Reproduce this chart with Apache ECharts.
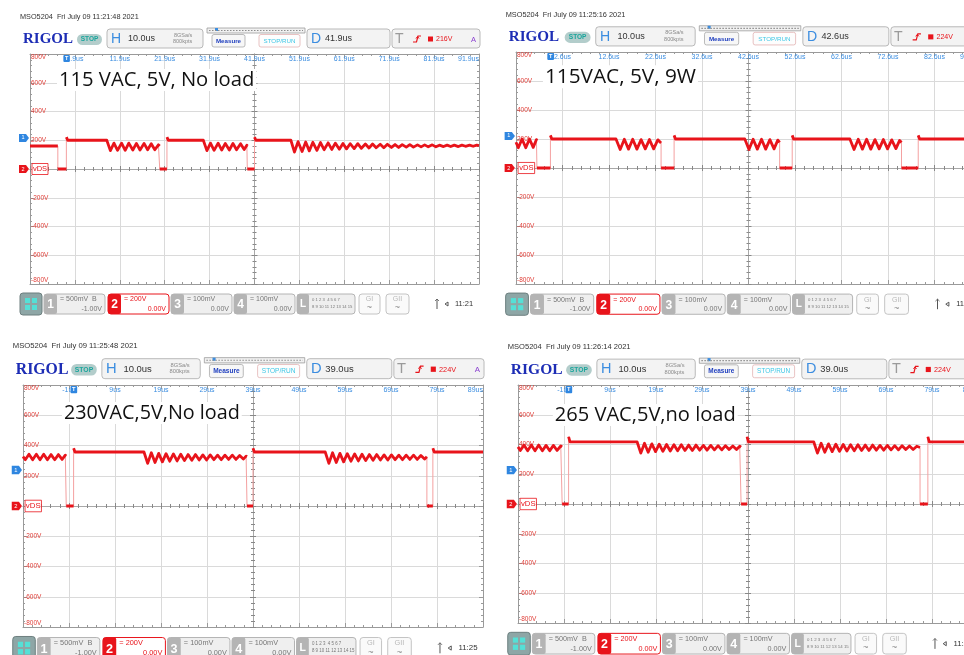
<!DOCTYPE html>
<html>
<head>
<meta charset="utf-8">
<script src="https://cdn.jsdelivr.net/npm/echarts@6/dist/echarts.min.js"></script>
<style>
html,body{margin:0;padding:0;background:#fff;}
#c{width:964px;height:655px;}
</style>
</head>
<body>
<div id="c"></div>
<script>
// Four RIGOL MSO5204 captures of the switch drain voltage (CH2, 200 V/div, 10 us/div)

const captions = ['115 VAC, 5V, No load', '115VAC, 5V, 9W', '230VAC,5V,No load', '265 VAC,5V,no load'];
const headers = [
  'MSO5204  Fri July 09 11:21:48 2021',
  'MSO5204  Fri July 09 11:25:16 2021',
  'MSO5204  Fri July 09 11:25:48 2021',
  'MSO5204  Fri July 09 11:26:14 2021'
];
// horizontal delay of screen centre after the trigger (us)
const delays = [41.9, 42.6, 39.0, 39.0];
const delayLabels = ['41.9us', '42.6us', '39.0us', '39.0us'];
const triggerLevels = ['216V', '224V', '224V', '224V'];
const clocks = ['11:21', '11:25', '11:25', '11:26'];
// CH1 offset marker position expressed on the CH2 scale (V)
const ch1Marker = [216, 221, 238, 228];

// Traces: [time in us after trigger, VDS in V]
const vds115NoLoad = [
  [-8.1,160],[-1.9,160],[-1.9,0],[0,0],[0,222],[0.3,200],[9.0,200],
  [9.8,128],[10.6,180],[11.4,130],[12.3,180],[13.1,130],[13.9,180],[14.8,132],[15.6,178],[16.4,132],[17.3,178],[18.1,134],[18.9,176],[19.7,134],[20.5,168],[20.8,160],
  [20.8,0],[22.4,0],[22.4,222],[22.7,200],[30.5,200],
  [31.3,128],[32.1,180],[32.9,130],[33.8,180],[34.6,132],[35.4,178],[36.3,132],[37.1,178],[37.9,134],[38.8,176],[39.6,136],[40.2,166],[40.3,160],
  [40.3,0],[41.9,0],[41.9,222],[42.2,200],[50.0,200],
  [50.8,118],[51.6,190],[52.5,122],[53.3,188],[54.1,126],[54.9,186],[55.8,130],[56.6,184],[57.4,134],[58.3,182],[59.1,136],[59.9,180],[60.8,138],[61.6,178],[62.4,140],[63.2,176],[64.1,142],[64.9,176],[65.7,144],[66.6,174],[67.4,146],[68.2,174],[69.0,148],[69.9,172],[70.7,148],[71.5,172],[72.4,150],[73.2,170],[74.0,150],[74.8,170],[75.7,152],[76.5,170],[77.3,152],[78.2,168],[79.0,154],[79.8,168],[80.6,154],[81.5,168],[82.3,154],[83.1,166],[84.0,156],[84.8,166],[85.6,156],[86.4,166],[87.3,156],[88.1,166],[88.9,158],[89.8,166],[90.6,158],[91.4,166],[91.9,162]
];
const vds115Load9W = [
  [-7.4,178],[-6.9,140],[-6.1,200],[-5.3,140],[-4.5,200],[-3.7,142],[-3.0,196],[-2.9,190],
  [-2.9,0],[0,0],[0,225],[0.3,200],[14.1,200],
  [15.0,128],[15.9,198],[16.8,130],[17.7,198],[18.6,130],[19.5,196],[20.4,132],[21.3,196],[22.2,132],[23.1,194],[23.8,172],
  [23.8,0],[26.6,0],[26.6,225],[26.9,200],[41.8,200],
  [42.7,128],[43.6,198],[44.5,130],[45.4,198],[46.3,130],[47.2,196],[48.1,132],[48.9,192],[49.3,176],
  [49.3,0],[52.0,0],[52.0,225],[52.3,200],[64.4,200],
  [65.3,128],[66.2,198],[67.1,130],[68.0,198],[68.9,130],[69.8,196],[70.7,132],[71.6,196],[72.5,132],[73.4,194],[74.3,134],[75.1,190],[75.5,176],
  [75.5,0],[79.1,0],[79.1,225],[79.4,200],[92.6,200]
];
const vds230NoLoad = [
  [-11,326],[-10.5,306],[-9.7,342],[-8.9,306],[-8.1,342],[-7.3,306],[-6.5,342],[-5.7,306],[-4.9,340],[-4.1,306],[-3.3,340],[-2.5,308],[-1.8,336],[-1.6,330],
  [-1.6,0],[0,0],[0,382],[0.3,357],[15.3,357],
  [16.1,282],[16.9,352],[17.7,288],[18.5,348],[19.3,292],[20.1,346],[20.9,296],[21.7,344],[22.5,298],[23.3,342],[24.1,300],[24.9,340],[25.7,302],[26.5,340],[27.3,304],[28.1,338],[28.9,304],[29.7,338],[30.5,306],[31.3,336],[32.1,306],[32.9,336],[33.7,308],[34.5,336],[35.3,308],[36.1,334],[36.9,310],[37.5,330],[37.7,326],
  [37.7,0],[39.0,0],[39.0,382],[39.3,357],[54.7,357],
  [55.5,282],[56.3,352],[57.1,288],[57.9,348],[58.7,292],[59.5,346],[60.3,296],[61.1,344],[61.9,298],[62.7,342],[63.5,300],[64.3,340],[65.1,302],[65.9,340],[66.7,304],[67.5,338],[68.3,304],[69.1,338],[69.9,306],[70.7,336],[71.5,306],[72.3,336],[73.1,308],[73.9,336],[74.7,308],[75.5,334],[76.3,310],[76.8,326],
  [76.8,0],[78.1,0],[78.1,382],[78.4,357],[89,357]
];
const vds265NoLoad = [
  [-11,384],[-10.5,360],[-9.7,396],[-8.9,358],[-8.1,396],[-7.3,358],[-6.5,396],[-5.7,358],[-4.9,394],[-4.1,358],[-3.3,394],[-2.5,360],[-1.7,390],[-1.4,384],
  [-1.4,0],[0,0],[0,452],[0.3,417],[14.9,417],
  [15.7,342],[16.5,408],[17.3,348],[18.1,404],[18.9,352],[19.7,402],[20.5,354],[21.3,400],[22.1,356],[22.9,398],[23.7,358],[24.5,398],[25.3,360],[26.1,396],[26.9,360],[27.7,396],[28.5,362],[29.3,394],[30.1,362],[30.9,394],[31.7,364],[32.5,392],[33.3,364],[34.1,392],[34.9,366],[35.7,390],[36.5,366],[37.2,388],[37.5,382],
  [37.5,0],[38.8,0],[38.8,452],[39.1,417],[53.3,417],
  [54.1,342],[54.9,408],[55.7,348],[56.5,404],[57.3,352],[58.1,402],[58.9,354],[59.7,400],[60.5,356],[61.3,398],[62.1,358],[62.9,398],[63.7,360],[64.5,396],[65.3,360],[66.1,396],[66.9,362],[67.7,394],[68.5,362],[69.3,394],[70.1,364],[70.9,392],[71.7,364],[72.5,392],[73.3,366],[74.1,390],[74.9,366],[75.7,388],[76.4,380],
  [76.4,0],[78.1,0],[78.1,452],[78.4,417],[89,417]
];
const traces = [vds115NoLoad, vds115Load9W, vds230NoLoad, vds265NoLoad];

// Screen layout of each capture's graticule
const grids = [
  {left: 30,  top: 54,  width: 449, height: 230},
  {left: 516, top: 52,  width: 465, height: 232},
  {left: 23,  top: 385, width: 460, height: 242},
  {left: 518, top: 385, width: 460, height: 238}
];
// caption placement (in the first capture's frame) and size
const captionPos = [[57, 80], [56, 78.5], [68, 80.5], [64, 83]];
const captionSize = [20.2, 20.6, 18.8, 19.4];

const RED = '#e8141b', BLUE = '#3b8de0', GRID = '#dadada', FRAME = '#9a9a9a';

// Thick trace: break the path at the fast vertical edges, which are drawn thin
function thickSegments(arr) {
  const out = [];
  for (let k = 0; k < arr.length; k++) {
    if (k > 0 && arr[k][0] === arr[k - 1][0] && Math.abs(arr[k][1] - arr[k - 1][1]) > 60) {
      out.push([arr[k][0], '-']);
    }
    out.push(arr[k]);
  }
  return out;
}

function fmtTime(v, i) {
  const d = delays[i] % 1 === 0 ? 0 : 1;
  return (Math.round(v * 10) / 10).toFixed(d) + 'us';
}

const chart = echarts.init(document.getElementById('c'), null, {renderer: 'canvas'});
const option = {
  animation: false,
  backgroundColor: '#ffffff',
  grid: [], xAxis: [], yAxis: [], series: []
};

grids.forEach((g, i) => {
  const tMin = delays[i] - 50, tMax = delays[i] + 50;
  option.grid.push({left: g.left, top: g.top, width: g.width, height: g.height,
    show: false, containLabel: false, outerBoundsMode: 'none'});
  const tick = {show: true, inside: true, length: 4, lineStyle: {color: FRAME, width: 1}};
  const minor = {show: true, splitNumber: 5, length: 2, lineStyle: {color: FRAME, width: 1}};
  const baseX = {type: 'value', gridIndex: i, min: tMin, max: tMax, interval: 10};
  // top frame with time labels
  option.xAxis.push(Object.assign({}, baseX, {
    position: 'top',
    axisLine: {show: true, onZero: false, lineStyle: {color: FRAME, width: 1}},
    axisTick: tick, minorTick: minor,
    splitLine: {show: true, lineStyle: {color: GRID, width: 1}},
    axisLabel: {show: true, inside: true, margin: 2, fontSize: 7, color: BLUE,
      fontFamily: 'Liberation Sans', showMinLabel: false, showMaxLabel: true,
      alignMaxLabel: 'right', formatter: v => fmtTime(v, i)}
  }));
  // bottom frame
  option.xAxis.push(Object.assign({}, baseX, {
    position: 'bottom',
    axisLine: {show: true, onZero: false, lineStyle: {color: FRAME, width: 1}},
    axisTick: tick, minorTick: minor, splitLine: {show: false}, axisLabel: {show: false}
  }));
  // 0 V centre line, ticks on both sides
  ['bottom', 'top'].forEach(pos => {
    option.xAxis.push(Object.assign({}, baseX, {
      position: pos,
      axisLine: {show: true, onZero: true, onZeroAxisIndex: i * 4, lineStyle: {color: '#a8a8a8', width: 1}},
      axisTick: {show: true, inside: true, length: 3, lineStyle: {color: '#888'}},
      minorTick: {show: true, splitNumber: 5, length: 2, lineStyle: {color: '#888'}},
      splitLine: {show: false}, axisLabel: {show: false}
    }));
  });

  const baseY = {type: 'value', gridIndex: i, min: -800, max: 800, interval: 200};
  option.yAxis.push(Object.assign({}, baseY, {
    position: 'left',
    axisLine: {show: true, onZero: false, lineStyle: {color: FRAME, width: 1}},
    axisTick: tick, minorTick: minor,
    splitLine: {show: true, lineStyle: {color: GRID, width: 1}},
    axisLabel: {show: true, inside: true, margin: 1, fontSize: 6.5, color: '#e0403a',
      fontFamily: 'Liberation Sans', showMinLabel: true, showMaxLabel: true,
      verticalAlignMaxLabel: 'top', verticalAlignMinLabel: 'bottom',
      formatter: v => (v === 0 ? '' : v + 'V')}
  }));
  option.yAxis.push(Object.assign({}, baseY, {
    position: 'right',
    axisLine: {show: true, onZero: false, lineStyle: {color: FRAME, width: 1}},
    axisTick: tick, minorTick: minor, splitLine: {show: false}, axisLabel: {show: false}
  }));
  // centre time line
  [true, false].forEach(ins => {
    option.yAxis.push(Object.assign({}, baseY, {
      position: 'left', offset: -g.width / 2,
      axisLine: {show: true, onZero: false, lineStyle: {color: '#a8a8a8', width: 1}},
      axisTick: {show: true, inside: ins, length: 3, lineStyle: {color: '#888'}},
      minorTick: {show: true, splitNumber: 5, length: 2, lineStyle: {color: '#888'}},
      splitLine: {show: false}, axisLabel: {show: false}
    }));
  });

  option.series.push({
    type: 'line', name: 'edges' + i, xAxisIndex: i * 4, yAxisIndex: i * 4,
    data: traces[i], symbol: 'none', silent: true, z: 3,
    lineStyle: {color: '#f4a0a0', width: 1}
  });
  option.series.push({
    type: 'line', name: 'vds' + i, xAxisIndex: i * 4, yAxisIndex: i * 4,
    data: thickSegments(traces[i]), symbol: 'none', connectNulls: false, silent: true, z: 4,
    lineStyle: {color: RED, width: 2.8, join: 'round'}
  });
});

chart.setOption(option);

// ---- instrument chrome around each graticule ----
function decor(i) {
  const g = grids[i];
  const sx = g.width / 449, sy = g.height / 230;
  const ox = g.left - 30 * sx, oy = g.top - 54 * sy;
  const X = x => ox + x * sx, Y = y => oy + y * sy;
  const els = [];
  const rect = (x, y, w, h, style, r) => els.push({type: 'rect', silent: true, z: 20,
    shape: {x: X(x), y: Y(y), width: w * sx, height: h * sy, r: r || 0}, style: style});
  const text = (x, y, t, size, fill, extra) => els.push({type: 'text', silent: true, z: 21,
    x: X(x), y: Y(y), style: Object.assign({text: t, fontSize: size * sy, fill: fill,
      fontFamily: 'Liberation Sans', verticalAlign: 'middle', textAlign: 'left'}, extra || {})});
  const line = (pts, stroke, lw, extra) => els.push({type: 'polyline', silent: true, z: 21,
    shape: {points: pts.map(p => [X(p[0]), Y(p[1])])},
    style: Object.assign({stroke: stroke, lineWidth: lw, fill: null}, extra || {})});

  // header line
  text(20, 17, headers[i], 7.3, '#333');
  // toolbar
  text(23, 39.5, 'RIGOL', 15, '#1d2db5', {fontFamily: 'Liberation Serif', fontWeight: 'bold'});
  rect(77, 34, 25, 11, {fill: '#b3cdcb'}, 5.5);
  text(89.5, 39.5, 'STOP', 6.5, '#1aa59c', {textAlign: 'center', fontWeight: 'bold'});
  rect(107, 29, 96, 19, {fill: '#f3f3f3', stroke: '#b9b9b9', lineWidth: 1}, 3);
  text(111, 39, 'H', 14, BLUE);
  text(128, 39, '10.0us', 9, '#333');
  text(174, 35, '8GSa/s', 5.5, '#8a8a8a');
  text(173, 41.5, '800kpts', 5.5, '#8a8a8a');
  rect(207, 28, 98, 5, {fill: '#f1f1f1', stroke: '#9c9c9c', lineWidth: 0.8});
  line([[209, 30.5], [303, 30.5]], '#8c8c8c', 1.2, {lineDash: [1.5, 1.5]});
  rect(215, 28, 3, 3, {fill: BLUE});
  rect(212, 34.5, 33, 12.5, {fill: '#f7f7f7', stroke: '#a9a9a9', lineWidth: 0.8}, 2);
  text(228.5, 41, 'Measure', 6.2, '#1f3fbf', {textAlign: 'center', fontWeight: 'bold'});
  rect(259, 34.5, 41, 12.5, {fill: '#fdfdfd', stroke: '#e2b3b3', lineWidth: 0.8}, 2);
  text(279.5, 41, 'STOP/RUN', 6.2, '#3ec7e6', {textAlign: 'center'});
  rect(307, 29, 83, 19, {fill: '#f3f3f3', stroke: '#b9b9b9', lineWidth: 1}, 3);
  text(311, 39, 'D', 14, BLUE);
  text(325, 39, delayLabels[i], 9, '#333');
  rect(392, 29, 88, 19, {fill: '#f3f3f3', stroke: '#b9b9b9', lineWidth: 1}, 3);
  text(395, 39, 'T', 14, '#9a9a9a');
  line([[413, 42], [416.5, 42], [418, 36], [421, 36]], RED, 1.2);
  line([[416, 38.5], [417.5, 36.5], [419, 38.5]], RED, 1);
  rect(428, 36.5, 5, 5, {fill: RED});
  text(436, 39.5, triggerLevels[i], 7, RED);
  text(471, 39.5, 'A', 7.5, '#8a3fd0');

  // bottom channel bar
  rect(20, 293, 22, 22, {fill: '#8ea6a6', stroke: '#6d7f7f', lineWidth: 1}, 3);
  [[25, 298], [32, 298], [25, 305], [32, 305]].forEach(p => rect(p[0], p[1], 5, 5, {fill: '#55e0d6'}));
  const chBox = (x, num, scale, offs, active, extra) => {
    const col = active ? RED : '#b4b4b4';
    rect(x, 294, 61, 20, {fill: active ? '#ffffff' : '#efefef', stroke: col, lineWidth: 1}, 3);
    rect(x, 294, 13, 20, {fill: col}, 2);
    text(x + 6.5, 305, num, 12, '#ffffff', {textAlign: 'center', fontWeight: 'bold'});
    text(x + 16, 299.5, '= ' + scale + (extra || ''), 7, active ? RED : '#777');
    text(x + 58, 309, offs, 7, active ? RED : '#777', {textAlign: 'right'});
  };
  chBox(44, '1', '500mV', '-1.00V', false, '  B');
  chBox(108, '2', '200V', '0.00V', true);
  chBox(171, '3', '100mV', '0.00V', false);
  chBox(234, '4', '100mV', '0.00V', false);
  rect(297, 294, 58, 20, {fill: '#efefef', stroke: '#b4b4b4', lineWidth: 1}, 3);
  rect(297, 294, 12, 20, {fill: '#b4b4b4'}, 2);
  text(303, 304, 'L', 10, '#fff', {textAlign: 'center', fontWeight: 'bold'});
  text(312, 300, '0 1 2 3  4 5 6 7', 4.2, '#777');
  text(312, 307, '8 9 10 11 12 13 14 15', 4.2, '#777');
  rect(359, 294, 21, 20, {fill: '#fafafa', stroke: '#c4c4c4', lineWidth: 1}, 3);
  text(369.5, 299.5, 'GI', 7, '#b8b8b8', {textAlign: 'center'});
  text(369.5, 308, '~', 9, '#888', {textAlign: 'center'});
  rect(386, 294, 23, 20, {fill: '#fafafa', stroke: '#c4c4c4', lineWidth: 1}, 3);
  text(397.5, 299.5, 'GII', 7, '#b8b8b8', {textAlign: 'center'});
  text(397.5, 308, '~', 9, '#888', {textAlign: 'center'});
  line([[437, 299], [437, 309]], '#555', 1);
  line([[435, 301], [437, 299], [439, 301]], '#555', 0.8);
  line([[445, 304], [448, 302], [448, 306], [445, 304]], '#555', 1);
  text(455, 304, clocks[i], 7.5, '#333');

  // caption pasted over the graticule
  const capPos = captionPos[i];
  text(capPos[0], capPos[1], captions[i], captionSize[i], '#111',
    {fontFamily: 'Open Sans', backgroundColor: '#ffffff', padding: [1, 2]});

  // channel markers on the left edge, placed through the axis scales
  const xi = i * 4, yi = i * 4;
  const tMin = delays[i] - 50;
  const p0 = chart.convertToPixel({xAxisIndex: xi, yAxisIndex: yi}, [tMin, 0]);
  const p1 = chart.convertToPixel({xAxisIndex: xi, yAxisIndex: yi}, [tMin, ch1Marker[i]]);
  const pt = chart.convertToPixel({xAxisIndex: xi, yAxisIndex: yi}, [0, 800]);
  const marker = (px, py, col, label) => {
    const x0 = px - 11 * sx, h = 4 * sy;
    els.push({type: 'polygon', silent: true, z: 22,
      shape: {points: [[x0, py - h], [x0 + 7 * sx, py - h], [x0 + 10 * sx, py], [x0 + 7 * sx, py + h], [x0, py + h]]},
      style: {fill: col}});
    els.push({type: 'text', silent: true, z: 23, x: x0 + 4 * sx, y: py,
      style: {text: label, fontSize: 5.5 * sy, fill: '#fff', textAlign: 'center', verticalAlign: 'middle', fontFamily: 'Liberation Sans'}});
  };
  marker(p1[0], p1[1], '#2f86e0', '1');
  marker(p0[0], p0[1], RED, '2');
  els.push({type: 'rect', silent: true, z: 22,
    shape: {x: p0[0] + 2 * sx, y: p0[1] - 5.5 * sy, width: 16 * sx, height: 11 * sy},
    style: {fill: '#fff', stroke: RED, lineWidth: 0.8}});
  els.push({type: 'text', silent: true, z: 23, x: p0[0] + 10 * sx, y: p0[1],
    style: {text: 'vDS', fontSize: 7.5 * sy, fill: RED, textAlign: 'center', verticalAlign: 'middle', fontFamily: 'Liberation Sans'}});
  // trigger-position flag on the top edge
  els.push({type: 'rect', silent: true, z: 22,
    shape: {x: pt[0] - 3 * sx, y: pt[1] + 1, width: 6.5 * sx, height: 7 * sy, r: 1},
    style: {fill: '#2f86e0'}});
  els.push({type: 'text', silent: true, z: 23, x: pt[0] + 0.2 * sx, y: pt[1] + 1 + 3.5 * sy,
    style: {text: 'T', fontSize: 5.5 * sy, fill: '#fff', textAlign: 'center', verticalAlign: 'middle', fontFamily: 'Liberation Sans', fontWeight: 'bold'}});
  return els;
}

let graphics = [];
grids.forEach((g, i) => { graphics = graphics.concat(decor(i)); });
chart.setOption({graphic: graphics});
</script>
</body>
</html>
